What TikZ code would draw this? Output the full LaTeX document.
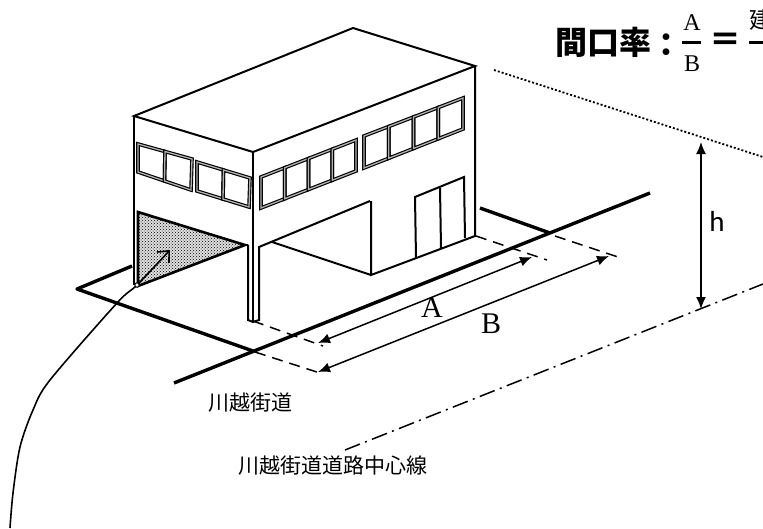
\documentclass[tikz,border=0pt]{standalone}
\usepackage{fontspec}
\newfontfamily\cjk{Noto Sans CJK JP}
\newfontfamily\calibri{Carlito}
\newfontfamily\serifletter{Liberation Serif}
\usetikzlibrary{arrows.meta,calc,patterns}

% one row of windows: corners tl, tr, br, bl, number of panes
\newcommand\winrow[5]{%
  \foreach \i in {1,...,#5}{
    \path ($#1!{(\i-1)/#5}!#2$) coordinate (p1) ($#1!{\i/#5}!#2$) coordinate (p2)
          ($#4!{\i/#5}!#3$) coordinate (p3) ($#4!{(\i-1)/#5}!#3$) coordinate (p4);
    \draw[line width=3.6] (p1) -- (p2) -- (p3) -- (p4) -- cycle;
    \draw[line width=1.3,gray!60] (p1) -- (p2) -- (p3) -- (p4) -- cycle;
  }%
}

\tikzset{
  wall/.style={line width=2,line join=miter},
  lot/.style={line width=3.4},
  guide/.style={line width=1.5,dash pattern=on 11pt off 7pt},
  measure/.style={line width=1.5,{Latex[length=12pt,width=10pt]}-{Latex[length=12pt,width=10pt]}},
  label/.style={font=\cjk\fontsize{21}{24}\selectfont,inner sep=0pt},
  letter/.style={font=\serifletter\fontsize{30}{32}\selectfont,inner sep=0pt},
  fracletter/.style={font=\serifletter\fontsize{24}{26}\selectfont,inner sep=0pt},
  heading/.style={font=\cjk\bfseries\fontsize{32}{36}\selectfont,inner sep=0pt}
}

\begin{document}
\begin{tikzpicture}[x=1pt,y=-1pt]
\useasboundingbox (0,0) rectangle (763,528);
\clip (0,0) rectangle (763,528);

% formula
\node[heading,anchor=west] (rate) at (555,42) {間口率};
\node[heading] (colon) at (666,45) {：};
\node[fracletter] (fa) at (692,23) {A};
\node[fracletter] (fb) at (692,64) {B};
\draw[line width=3] (682,42) -- (701,42);
\node[heading] (eq) at (725,42) {＝};
\node[font=\cjk\fontsize{23}{26}\selectfont,inner sep=0pt,anchor=west] (ken) at (749,20) {建};
\draw[line width=3] (749,42) -- (763,42);

% lot
\draw[lot,line join=round] (132,266) -- (77,289) -- (253,351);
\draw[lot] (480,208) -- (550,233);
\draw[lot] (174,383) -- (650,193);

% guide lines
\draw[guide] (476,236) -- (547,260);
\draw[guide] (253,321) -- (323,346);
\draw[guide] (255,352) -- (323,374);
\draw[guide] (555,236) -- (618,257);
\draw[line width=1.8,dash pattern=on 2pt off 2pt] (494,70) -- (763,157);
\draw[line width=1.5,dash pattern=on 16pt off 5.5pt on 2pt off 5.5pt] (345,450) -- (763,284);

% building
\draw[wall] (134,116) -- (353,28) -- (475,66) -- (253,152) -- cycle;
\draw[wall] (134,116) -- (134,285);
\draw[wall] (475,66) -- (475,236) -- (371,275) -- (371,201);
\draw[wall] (272,242) -- (371,275);
\draw[wall] (248,245) -- (248,320) -- (253,322) -- (259,320) -- (259,247) -- (370,201);
\draw[wall] (253,152) -- (253,322);
\fill[gray!25] (138,212) -- (245,245) -- (138,286) -- cycle;
\filldraw[line width=2.6,pattern=crosshatch dots,pattern color=black] (138,212) -- (245,245) -- (138,286) -- cycle;
\draw[wall] (245,245) -- (248,245);

% door
\draw[wall] (416,258) -- (415,197) -- (464,177) -- (465,238);
\draw[wall] (440,188) -- (441,248);

% windows
\winrow{(138,144)}{(192,159)}{(191,190)}{(138,172)}{2}
\winrow{(197,162)}{(250,178)}{(249,207)}{(197,191)}{2}
\winrow{(261,177)}{(356,140)}{(356,171)}{(261,208)}{4}
\winrow{(364,136)}{(463,98)}{(463,129)}{(364,168)}{4}

% pointer
\draw[line width=1.6,-{Straight Barb[length=9pt,width=16pt]}] plot[smooth,tension=.5] coordinates
  {(10,528) (13,493) (20,447) (33,410) (50,380) (117,303) (137,285) (170,250)};
\filldraw[fill=white,line width=1] (137,285) circle (2.2);

% dimensions
\coordinate (aleft) at (318,343);
\coordinate (aright) at (532,257);
\coordinate (bleft) at (318,372);
\coordinate (bright) at (609,256);
\coordinate (htop) at (701,142);
\coordinate (hbot) at (701,309);
\draw[measure] (aleft) -- (aright);
\draw[measure] (bleft) -- (bright);
\draw[measure] (htop) -- (hbot);
\node[letter] (la) at (432,308) {A};
\node[letter] (lb) at (491,324) {B};
\node[font=\calibri\fontsize{29}{32}\selectfont,inner sep=0pt] (lh) at (717,221) {h};

% names
\node[label] (road) at (250,403) {川越街道};
\node[label] (center) at (333,466) {川越街道道路中心線};
\end{tikzpicture}
\end{document}
